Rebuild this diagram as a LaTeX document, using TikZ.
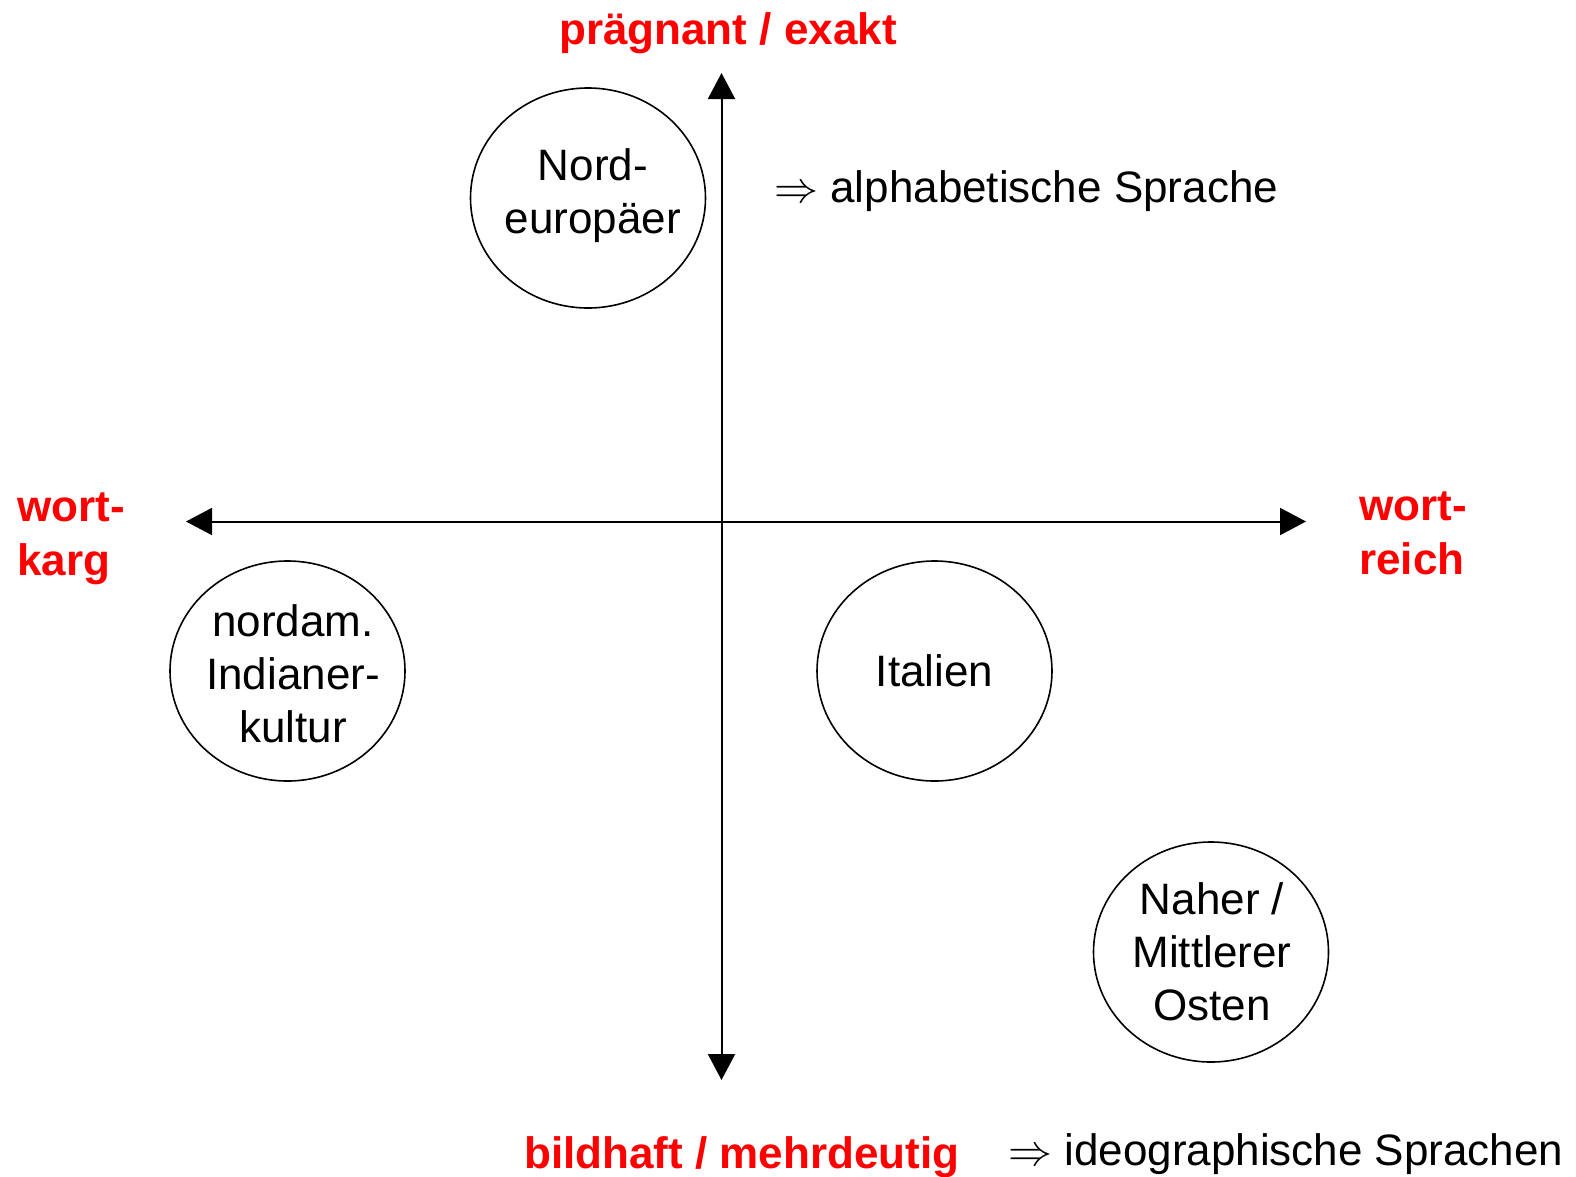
\documentclass[tikz,border=0pt]{standalone}
\usepackage{fix-cm}
\usepackage{fontspec}
\setmainfont{Liberation Sans}
\usetikzlibrary{arrows.meta,shapes.geometric}
\definecolor{lblred}{RGB}{255,0,0}
\tikzset{
  axis/.style={line width=2pt, {Triangle[length=26pt,width=27pt]}-{Triangle[length=26pt,width=27pt]}},
  group/.style={draw, line width=1.6pt, ellipse, minimum width=235pt, minimum height=220pt, inner sep=0pt},
  grouptext/.style={align=center, inner sep=0pt, font=\fontsize{44}{53}\selectfont},
  redlbl/.style={text=lblred, font=\fontsize{44}{54}\selectfont\bfseries, align=left, inner sep=0pt},
  note/.style={font=\fontsize{44}{53}\selectfont, inner sep=0pt, anchor=west}
}
\begin{document}
\begin{tikzpicture}[x=1pt,y=-1pt]
\useasboundingbox (0,0) rectangle (1576,1176);
\coordinate (top) at (721.5,73);
\coordinate (bottom) at (721.5,1080);
\coordinate (left) at (186,521.5);
\coordinate (right) at (1306,521.5);
\draw[axis] (bottom) -- (top);
\draw[axis] (left) -- (right);

\node[group] (nord) at (588,198) {};
\node[grouptext] (nordtxt) at (593,196) {Nord-\\europäer};
\node[group] (indianer) at (287.5,671) {};
\node[grouptext] (indtxt) at (293,674) {nordam.\\Indianer-\\kultur};
\node[group] (italien) at (934.5,671) {};
\node[grouptext] (italtxt) at (934.5,671) {Italien};
\node[group] (osten) at (1211,952) {};
\node[grouptext] (ostentxt) at (1212,952) {Naher /\\Mittlerer\\Osten};

\node[redlbl, anchor=center] (praeg) at (728,33) {prägnant / exakt};
\node[redlbl, anchor=center] (bild) at (741.7,1157) {bildhaft / mehrdeutig};
\node[redlbl, anchor=west] (karg) at (17,539) {wort-\\karg};
\node[redlbl, anchor=west] (reich) at (1359,533) {wort-\\reich};

\node[note] (alpha) at (774,191) {$\Rightarrow$ alphabetische Sprache};
\node[note] (ideo) at (1008,1154) {$\Rightarrow$ ideographische Sprachen};
\end{tikzpicture}
\end{document}
